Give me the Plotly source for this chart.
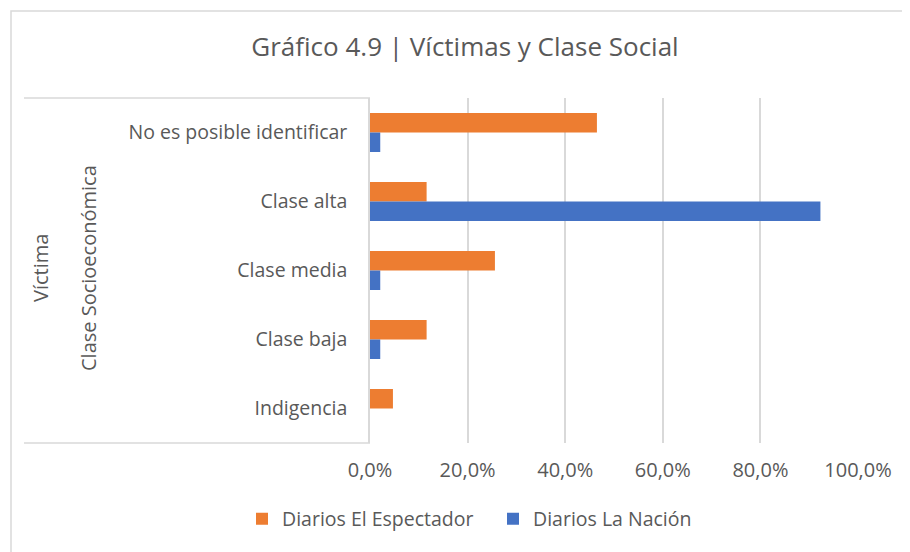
import plotly.graph_objects as go

categories = ["No es posible identificar", "Clase alta", "Clase media", "Clase baja", "Indigencia"]
espectador = [46.5, 11.6, 25.6, 11.6, 4.7]
nacion = [2.1, 92.3, 2.1, 2.1, 0.0]
x_ticks = [0, 20, 40, 60, 80, 100]
x_tick_text = [f"{v:.1f}%".replace(".", ",") for v in x_ticks]
series_names = ["Diarios El Espectador", "Diarios La Nación"]
outer_labels = ["Víctima", "Clase Socioeconómica"]
title_text = "Gráfico 4.9 | Víctimas y Clase Social"

FONT = "'Open Sans', 'Noto Sans', sans-serif"
TXT = "#595959"
GRID = "#D9D9D9"

OFF = 8  # default HTML body margin
W, H = 910 - OFF, 552 - OFF
L, R, T, B = 362, 52, 90, 109
PW, PH = W - L - R, H - T - B


def px_x(px):
    return (px - OFF - L) / PW


def px_y(py):
    return (H - B - (py - OFF)) / PH


fig = go.Figure()
fig.add_trace(go.Bar(y=categories, x=espectador, orientation="h", name=series_names[0],
                     marker=dict(color="#ED7D31", line=dict(width=0))))
fig.add_trace(go.Bar(y=categories, x=nacion, orientation="h", name=series_names[1],
                     marker=dict(color="#4472C4", line=dict(width=0))))

shapes = [
    dict(type="rect", xref="paper", yref="paper", x0=px_x(11), x1=px_x(940), y0=px_y(580), y1=px_y(11),
         line=dict(color=GRID, width=1.5), layer="below"),
    dict(type="line", xref="paper", yref="paper", x0=px_x(24), x1=0, y0=1, y1=1,
         line=dict(color=GRID, width=1.5)),
    dict(type="line", xref="paper", yref="paper", x0=px_x(24), x1=0, y0=0, y1=0,
         line=dict(color=GRID, width=1.5)),
]

annotations = [
    dict(text=outer_labels[0], xref="paper", yref="paper", x=px_x(40), y=px_y(268),
         textangle=-90, showarrow=False, font=dict(family=FONT, size=20, color=TXT),
         xanchor="center", yanchor="middle"),
    dict(text=outer_labels[1], xref="paper", yref="paper", x=px_x(88), y=px_y(268),
         textangle=-90, showarrow=False, font=dict(family=FONT, size=20, color=TXT),
         xanchor="center", yanchor="middle"),
]

fig.update_layout(
    width=W, height=H,
    margin=dict(l=L, r=R, t=T, b=B, pad=0),
    paper_bgcolor="white", plot_bgcolor="white",
    barmode="group", bargap=0.434, bargroupgap=0,
    font=dict(family=FONT, size=19, color=TXT),
    title=dict(text=title_text, x=(465 - OFF) / W, y=1 - (47 - OFF) / H, xanchor="center", yanchor="middle",
               font=dict(family=FONT, size=26, color=TXT)),
    legend=dict(orientation="h", x=px_x(242), y=px_y(519), xanchor="left", yanchor="middle",
                font=dict(family=FONT, size=19.5, color=TXT), itemwidth=30,
                entrywidth=206, entrywidthmode="pixels", bgcolor="rgba(0,0,0,0)"),
    shapes=shapes,
    annotations=annotations,
    showlegend=True,
)
fig.update_xaxes(range=[0, 100], tickvals=x_ticks, ticktext=x_tick_text,
                 showgrid=True, gridcolor=GRID, gridwidth=1.5, zeroline=False, showline=False,
                 ticks="", ticklabelstandoff=13, tickfont=dict(family=FONT, size=20, color=TXT),
                 fixedrange=True)
fig.update_yaxes(autorange="reversed", type="category", showgrid=False, zeroline=False,
                 showline=True, linecolor=GRID, linewidth=1.5, ticks="", ticklabelstandoff=17,
                 tickfont=dict(family=FONT, size=19.5, color=TXT), fixedrange=True)

fig.write_html("out.html")
